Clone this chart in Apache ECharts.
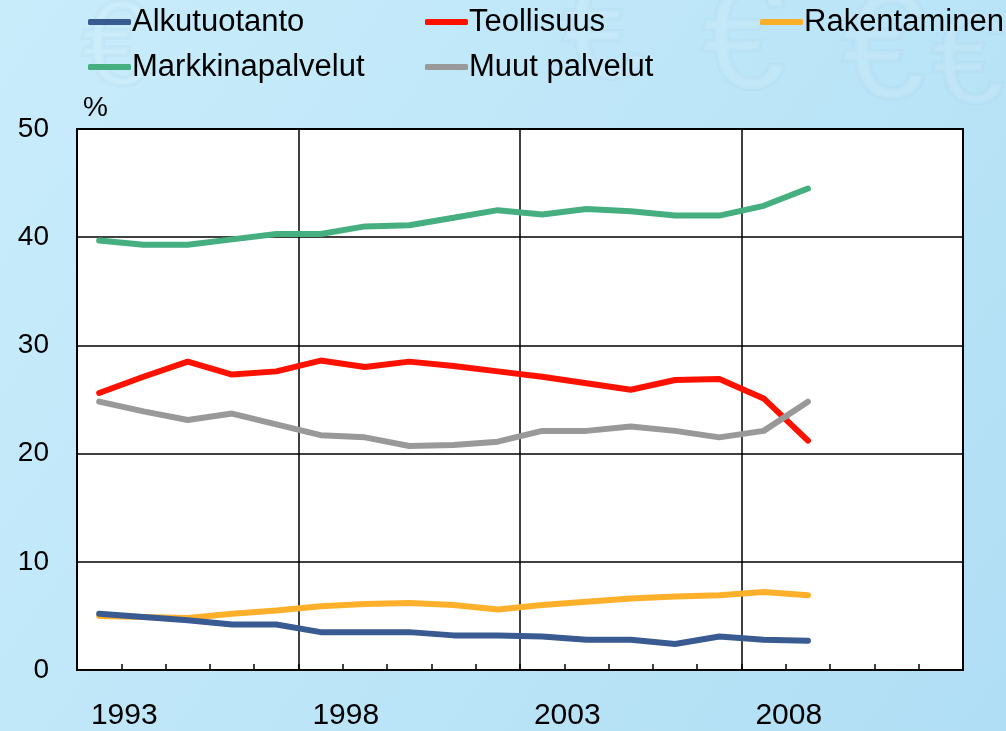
<!DOCTYPE html>
<html>
<head>
<meta charset="utf-8">
<script src="https://cdn.jsdelivr.net/npm/echarts@6/dist/echarts.min.js"></script>
<style>
html,body{margin:0;padding:0;}
#c{width:1006px;height:731px;}
</style>
</head>
<body>
<div id="c"></div>
<script>
// ---- data ----
const years = [1993,1994,1995,1996,1997,1998,1999,2000,2001,2002,2003,2004,2005,2006,2007,2008,2009];
const tickLabels = ['1993','1998','2003','2008'];
const seriesNames = ['Alkutuotanto','Teollisuus','Rakentaminen','Markkinapalvelut','Muut palvelut'];
const alkutuotanto     = [5.2,4.9,4.6,4.2,4.2,3.5,3.5,3.5,3.2,3.2,3.1,2.8,2.8,2.4,3.1,2.8,2.7];
const teollisuus       = [25.6,27.1,28.5,27.3,27.6,28.6,28.0,28.5,28.1,27.6,27.1,26.5,25.9,26.8,26.9,25.1,21.2];
const rakentaminen     = [5.0,4.9,4.8,5.2,5.5,5.9,6.1,6.2,6.0,5.6,6.0,6.3,6.6,6.8,6.9,7.2,6.9];
const markkinapalvelut = [39.7,39.3,39.3,39.8,40.3,40.3,41.0,41.1,41.8,42.5,42.1,42.6,42.4,42.0,42.0,42.9,44.5];
const muutPalvelut     = [24.8,23.9,23.1,23.7,22.7,21.7,21.5,20.7,20.8,21.1,22.1,22.1,22.5,22.1,21.5,22.1,24.8];
const yTicks = [0,10,20,30,40,50];

// ---- styling ----
const colors = ['#395B92','#FF1100','#FFB02A','#45AF80','#999999'];
const values = [alkutuotanto, teollisuus, rakentaminen, markkinapalvelut, muutPalvelut];
const font = 'Liberation Sans, Arial, sans-serif';
const totalSlots = 20;      // number of year slots on the axis
const slotCenter = 0.5;     // points drawn in the middle of each yearly slot

const chart = echarts.init(document.getElementById('c'), null, {renderer:'canvas'});

const series = seriesNames.map((n, k) => ({
  name: n,
  type: 'line',
  xAxisIndex: 0,
  showSymbol: false,
  symbol: 'none',
  color: colors[k],
  lineStyle: {width: 6, color: colors[k], cap: 'round', join: 'round'},
  data: years.map((y, i) => [i + slotCenter, values[k][i]]),
  z: 5 + (k === 0 ? 1 : 0)
}));

const legendPos = [
  {left: 88, top: 6}, {left: 425, top: 6}, {left: 760, top: 6},
  {left: 88, top: 51}, {left: 425, top: 51}
];
const legends = seriesNames.map((n, k) => ({
  data: [n],
  left: legendPos[k].left,
  top: legendPos[k].top,
  padding: 0,
  icon: 'roundRect',
  itemWidth: 43,
  itemHeight: 6,
  itemGap: 0,
  selectedMode: false,
  textStyle: {fontFamily: font, fontSize: 31, color: '#000', lineHeight: 32, padding: [0,0,0,-4]}
}));

// very faint decorative euro signs of the background picture
const euroDeco = [
  {x: 560, y: -40, s: 150}, {x: 700, y: -30, s: 150}, {x: 840, y: -20, s: 150},
  {x: 930, y: 0, s: 130}, {x: 80, y: -10, s: 120}
].map(d => ({
  type: 'text', left: d.x, top: d.y, z: -10, silent: true,
  style: {text: '€', fontSize: d.s, fontFamily: font, fill: 'rgba(255,255,255,0.10)', stroke: 'rgba(160,205,228,0.16)', lineWidth: 4}
}));

chart.setOption({
  animation: false,
  backgroundColor: {
    type: 'linear', x: 0, y: 0, x2: 1, y2: 1,
    colorStops: [
      {offset: 0, color: '#c9ecfb'},
      {offset: 0.5, color: '#bde6f8'},
      {offset: 1, color: '#b0def4'}
    ]
  },
  graphic: euroDeco,
  legend: legends,
  grid: {
    left: 77, right: 43, top: 129, bottom: 60,
    show: true, backgroundColor: '#ffffff', borderColor: '#000', borderWidth: 2
  },
  xAxis: [
    {
      type: 'value', min: 0, max: totalSlots, interval: 1,
      axisLine: {show: true, lineStyle: {color: '#000', width: 2}},
      axisTick: {show: true, inside: true, length: 6, lineStyle: {color: '#000', width: 1.5}},
      splitLine: {show: false},
      axisLabel: {
        fontFamily: font, fontSize: 30, color: '#000', margin: 31,
        padding: [0, 0, 0, 6],
        showMinLabel: true, showMaxLabel: true,
        formatter: function (v) {
          const y = String(years[0] - 1 + v);
          return tickLabels.indexOf(y) >= 0 ? y : '';
        }
      }
    },
    {
      type: 'value', min: 0, max: totalSlots, interval: 5, position: 'bottom',
      axisLine: {show: false}, axisTick: {show: false}, axisLabel: {show: false},
      splitLine: {show: true, lineStyle: {color: '#000', width: 1.5}}
    }
  ],
  yAxis: {
    type: 'value', min: yTicks[0], max: yTicks[yTicks.length - 1], interval: 10,
    name: '%', nameLocation: 'end', nameGap: 7,
    nameTextStyle: {fontFamily: font, fontSize: 28, color: '#000', align: 'left', padding: [0,0,0,6]},
    axisLine: {show: true, lineStyle: {color: '#000', width: 2}},
    axisTick: {show: false},
    splitLine: {show: true, lineStyle: {color: '#000', width: 1.5}},
    axisLabel: {fontFamily: font, fontSize: 28, color: '#000', margin: 28}
  },
  series: series
});
</script>
</body>
</html>
